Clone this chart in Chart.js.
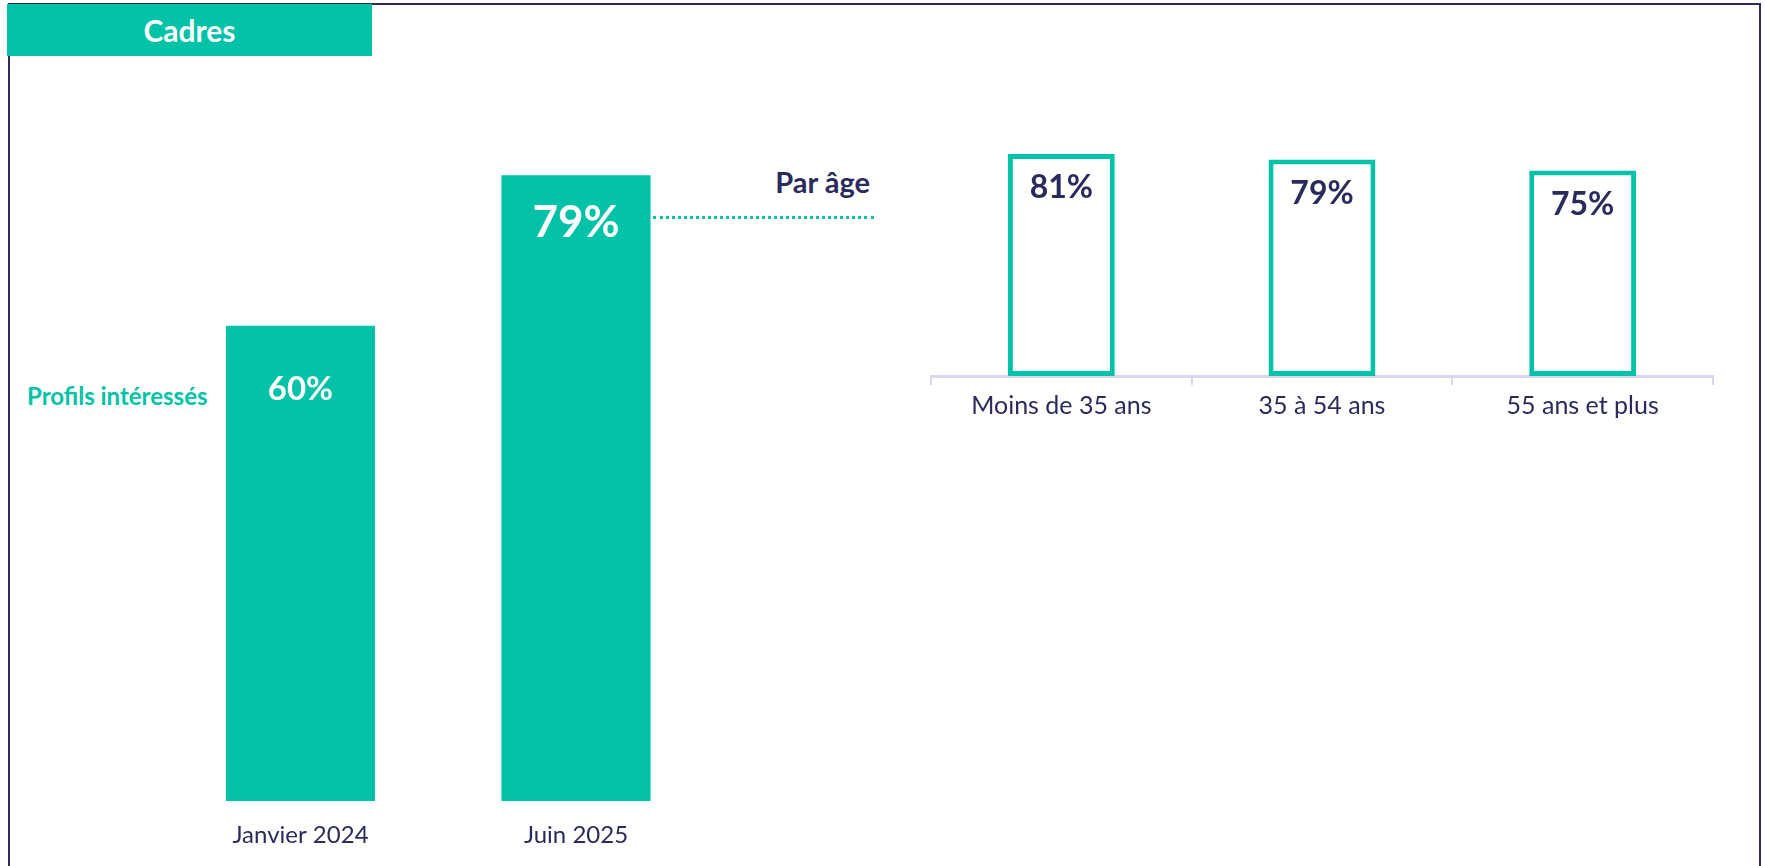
<!DOCTYPE html>
<html lang="fr">
<head>
<meta charset="utf-8">
<title>Cadres - profils intéressés</title>
<script src="https://cdn.jsdelivr.net/npm/chart.js@4.4.1/dist/chart.umd.min.js"></script>
<style>
    html, body { margin: 0; padding: 0; background: #fff; overflow: hidden; }
    body { width: 1765px; height: 866px; position: relative; font-family: Lato, "Open Sans", sans-serif; }
    .cadre { position: absolute; left: 8px; top: 3px; width: 1749px; height: 880px; border: 2px solid #2b2a5c; }
    .titre { position: absolute; left: 7px; top: 4px; width: 365px; height: 52px; background: #02c3a7; color: #fff;
             font-weight: 700; font-size: 30px; line-height: 52px; text-align: center; }
    .profils { position: absolute; left: 27px; top: 381px; color: #02c3a7; font-weight: 700; font-size: 24px; }
    .par-age { position: absolute; right: 895px; top: 164px; color: #2b2a5c; font-weight: 700; font-size: 29px; }
    .pointille { position: absolute; left: 653px; top: 216px; width: 221px; border-top: 3px dotted #02c3a7; }
    canvas { position: absolute; }
</style>
</head>
<body>
<div class="cadre"></div>
<div class="titre">Cadres</div>
<div class="profils">Profils intéressés</div>
<div class="par-age">Par âge</div>
<div class="pointille"></div>
<canvas id="evolution" width="580" height="866" style="left:150px; top:0px;"></canvas>
<canvas id="parAge" width="840" height="400" style="left:900px; top:60px;"></canvas>

<script>
// Données
const periodes = ['Janvier 2024', 'Juin 2025'];
const interesses = [60, 79];
const tranchesAge = ['Moins de 35 ans', '35 à 54 ans', '55 ans et plus'];
const interessesParAge = [81, 79, 75];

const VERT = '#02c3a7';
const MARINE = '#2b2a5c';
const POLICE = 'Lato, "Open Sans", sans-serif';

// Étiquettes de valeur dans le haut de chaque barre
const etiquettesPlugin = {
    id: 'etiquettes',
    afterDatasetsDraw(chart, args, opts) {
        const ctx = chart.ctx;
        const meta = chart.getDatasetMeta(0);
        const valeurs = chart.data.datasets[0].data;
        ctx.save();
        ctx.textAlign = 'center';
        ctx.textBaseline = 'middle';
        ctx.fillStyle = opts.color;
        meta.data.forEach((bar, i) => {
            const taille = opts.sizes[i];
            ctx.font = `700 ${taille}px ${POLICE}`;
            ctx.fillText(valeurs[i] + '%', bar.x, bar.y + opts.offsets[i]);
        });
        ctx.restore();
    }
};

// Évolution des profils intéressés
new Chart(document.getElementById('evolution'), {
    type: 'bar',
    data: {
        labels: periodes,
        datasets: [{
            data: interesses,
            backgroundColor: VERT,
            borderWidth: 0,
            barPercentage: 0.541,
            categoryPercentage: 1
        }]
    },
    options: {
        responsive: false,
        animation: false,
        layout: { padding: { left: 12.75, right: 16.25, top: 9, bottom: 0 } },
        plugins: {
            legend: { display: false },
            tooltip: { enabled: false },
            etiquettes: { color: '#fff', sizes: [33, 44], offsets: [64, 47] }
        },
        scales: {
            y: { display: false, min: 0, max: 100 },
            x: {
                grid: { display: false, drawTicks: false },
                border: { display: false },
                ticks: { color: MARINE, font: { family: POLICE, size: 24 }, padding: 20 },
                afterFit(scale) { scale.height = 65; }
            }
        }
    },
    plugins: [etiquettesPlugin]
});

// Répartition par âge
new Chart(document.getElementById('parAge'), {
    type: 'bar',
    data: {
        labels: tranchesAge,
        datasets: [{
            data: interessesParAge,
            backgroundColor: '#fff',
            borderColor: VERT,
            borderWidth: 5,
            borderSkipped: false,
            barPercentage: 0.41,
            categoryPercentage: 1
        }]
    },
    options: {
        responsive: false,
        animation: false,
        layout: { padding: { left: 31, right: 27, top: 42, bottom: 0 } },
        plugins: {
            legend: { display: false },
            tooltip: { enabled: false },
            etiquettes: { color: MARINE, sizes: [32, 32, 32], offsets: [34, 34, 34] }
        },
        scales: {
            y: { display: false, min: 0, max: 100 },
            x: {
                grid: { display: true, drawOnChartArea: false, drawTicks: true, tickLength: 9, color: '#d8d7ee', lineWidth: 2 },
                border: { display: true, color: '#d8d7ee', width: 3 },
                ticks: { color: MARINE, font: { family: POLICE, size: 25 }, padding: 6 },
                afterFit(scale) { scale.height = 84; }
            }
        }
    },
    plugins: [etiquettesPlugin]
});
</script>
</body>
</html>
